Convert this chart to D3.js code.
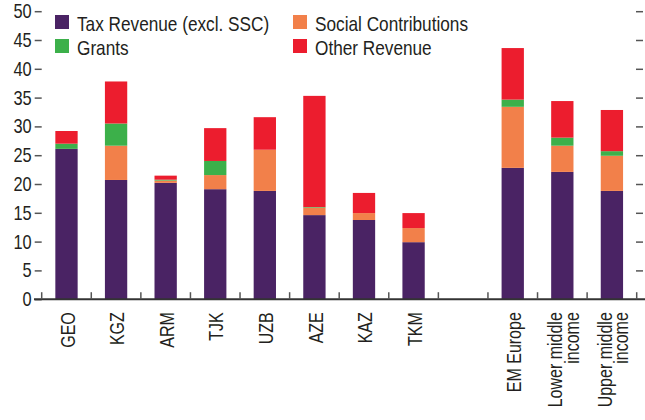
<!DOCTYPE html>
<meta charset="utf-8">
<html>
<head>
<script src="https://d3js.org/d3.v7.min.js"></script>
<style>
body { margin: 0; background: #fff; }
text { font-family: "Liberation Sans", Arial, sans-serif; fill: #231f20; }
</style>
</head>
<body>
<div id="chart"></div>
<script>
// categories (blank one is the gap between countries and groups)
var categories = ["GEO", "KGZ", "ARM", "TJK", "UZB", "AZE", "KAZ", "TKM", "", "EM Europe", "Lower middle income", "Upper middle income"];
var tickLabels = [["GEO"], ["KGZ"], ["ARM"], ["TJK"], ["UZB"], ["AZE"], ["KAZ"], ["TKM"], [], ["EM Europe"], ["Lower middle", "income"], ["Upper middle", "income"]];

var series = ["Tax Revenue (excl. SSC)", "Social Contributions", "Grants", "Other Revenue"];
var colors = ["#4a2364", "#f2804a", "#3cb04a", "#ec1d2e"];

var tax    = [26.1, 20.7, 20.2, 19.1, 18.8, 14.6, 13.75, 9.9, null, 22.8, 22.1, 18.8];
var social = [0, 5.95, 0.4, 2.45, 7.15, 1.3, 1.2, 2.45, null, 10.6, 4.55, 6.1];
var grants = [0.9, 3.85, 0.15, 2.45, 0, 0.1, 0, 0, null, 1.25, 1.4, 0.8];
var other  = [2.2, 7.3, 0.7, 5.7, 5.65, 19.3, 3.5, 2.6, null, 8.95, 6.35, 7.15];

var yTicks = [0, 5, 10, 15, 20, 25, 30, 35, 40, 45, 50];

var W = 645, H = 420;
var plotLeft = 41.7, plotRight = 636.7, plotTop = 11.2, plotBottom = 299.2;
var narrow = 0.82; // no condensed font installed, squeeze text horizontally

var svg = d3.select("#chart").append("svg")
  .attr("width", W)
  .attr("height", H);

var x = d3.scaleBand()
  .domain(categories)
  .range([plotLeft, plotRight])
  .paddingInner(0.55)
  .paddingOuter(0.275);

var y = d3.scaleLinear()
  .domain([0, 50])
  .range([plotBottom, plotTop]);

// build rows for stacking
var rows = categories.map(function(c, i) {
  return { cat: c, s0: tax[i] || 0, s1: social[i] || 0, s2: grants[i] || 0, s3: other[i] || 0 };
}).filter(function(d) { return d.cat !== ""; });

var layers = d3.stack().keys(["s0", "s1", "s2", "s3"])(rows);

svg.append("g").selectAll("g")
  .data(layers)
  .enter().append("g")
    .attr("fill", function(d, i) { return colors[i]; })
  .selectAll("rect")
  .data(function(d) { return d; })
  .enter().append("rect")
    .attr("x", function(d) { return x(d.data.cat); })
    .attr("width", x.bandwidth())
    .attr("y", function(d) { return y(d[1]); })
    .attr("height", function(d) { return y(d[0]) - y(d[1]); });

// left axis
var yAxis = svg.append("g")
  .attr("transform", "translate(" + plotLeft + ",0)")
  .call(d3.axisLeft(y).tickValues(yTicks).tickSize(7).tickPadding(3));
yAxis.select(".domain").remove();
yAxis.selectAll("line").attr("stroke", "#555").attr("stroke-width", 1.5);
yAxis.selectAll("text")
  .attr("x", null)
  .attr("transform", "translate(-10,0) scale(" + narrow + ",1)")
  .style("font-size", "20px")
  .attr("fill", "#231f20");

// right axis, ticks only
var yAxisR = svg.append("g")
  .attr("transform", "translate(" + (plotRight + 6.3) + ",0)")
  .call(d3.axisLeft(y).tickValues(yTicks.slice(1)).tickSize(7).tickFormat(""));
yAxisR.select(".domain").remove();
yAxisR.selectAll("line").attr("stroke", "#555").attr("stroke-width", 1.5);

// baseline
svg.append("line")
  .attr("x1", 34).attr("x2", W)
  .attr("y1", y(0)).attr("y2", y(0))
  .attr("stroke", "#333")
  .attr("stroke-width", 2);

// boundary ticks between categories
var step = x.step();
var bounds = categories.map(function(c) { return x(c) - step * x.paddingInner() / 2; });
bounds.push(bounds[bounds.length - 1] + step);
svg.append("g").selectAll("line")
  .data(bounds)
  .enter().append("line")
    .attr("x1", function(d) { return d; })
    .attr("x2", function(d) { return d; })
    .attr("y1", y(0) - 7)
    .attr("y2", y(0))
    .attr("stroke", "#555")
    .attr("stroke-width", 1.5);

// category labels, rotated
var lab = svg.append("g").selectAll("g")
  .data(categories)
  .enter().append("g")
    .attr("transform", function(d) {
      return "translate(" + (x(d) + x.bandwidth() / 2 + 1) + "," + (y(0) + 13) + ") rotate(-90) scale(0.8,1)";
    });
lab.each(function(d, i) {
  var lines = tickLabels[i];
  var g = d3.select(this);
  var lh = 16.7;
  var off = -(lines.length - 1) * lh / 2;
  lines.forEach(function(t, j) {
    g.append("text")
      .attr("text-anchor", "end")
      .attr("dy", "0.36em")
      .attr("y", off + j * lh)
      .style("font-size", "20px")
      .text(t);
  });
});

// legend
var legendPos = [[55, 15], [293, 15], [55, 39], [293, 39]];
var leg = svg.append("g").selectAll("g")
  .data(d3.range(series.length))
  .enter().append("g")
    .attr("transform", function(d, i) { return "translate(" + legendPos[i][0] + "," + legendPos[i][1] + ")"; });
leg.append("rect")
  .attr("width", 14).attr("height", 14)
  .attr("fill", function(d) { return colors[d]; });
leg.append("text")
  .attr("transform", "translate(22,15.5) scale(" + narrow + ",1)")
  .style("font-size", "21px")
  .text(function(d) { return series[d]; });
</script>
</body>
</html>
